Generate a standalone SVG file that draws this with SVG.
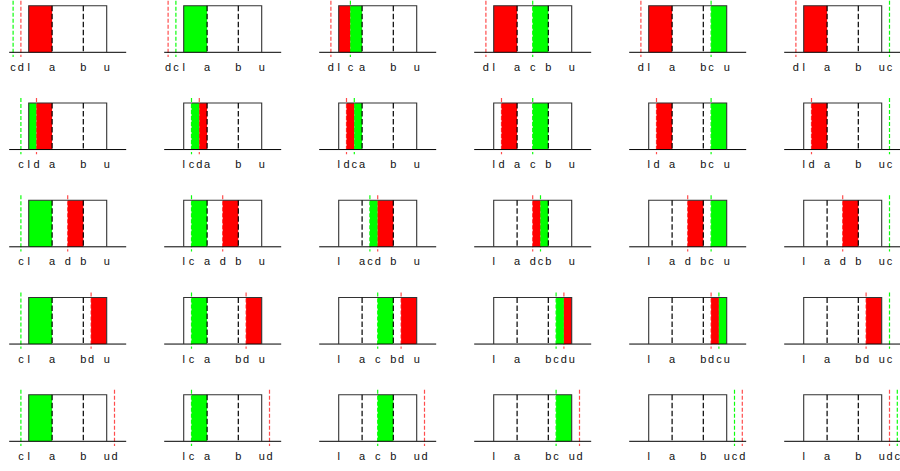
<svg xmlns="http://www.w3.org/2000/svg" width="900" height="471" viewBox="0 0 900 471">
<style>
.base{stroke:#000;stroke-width:1;fill:none}
.box{stroke:#333;stroke-width:1.1;fill:none}
.ab{stroke:#000;stroke-width:1.2;stroke-dasharray:5.5,2.5;fill:none}
.cl{stroke:#00ff00;stroke-opacity:.95;stroke-width:1.2;stroke-dasharray:4,2}
.dl{stroke:#ff2020;stroke-opacity:.8;stroke-width:1.2;stroke-dasharray:4,2}
.g{fill:#00ff00}
.r{fill:#ff0000}
text{font-family:"Liberation Sans",Arial,sans-serif;font-size:11px;text-anchor:middle;fill:#111}
</style>
<defs>
<g id="frame">
<line class="base" x1="-19.5" y1="46.6" x2="97.5" y2="46.6"/>
<path class="box" d="M0,46.6V0H78V46.6"/>
<line class="ab" x1="23.4" y1="0" x2="23.4" y2="46.6"/>
<line class="ab" x1="54.6" y1="0" x2="54.6" y2="46.6"/>
<text x="0" y="65.3">l</text>
<text x="23.4" y="65.3">a</text>
<text x="54.6" y="65.3">b</text>
<text x="78" y="65.3">u</text>
</g>
</defs>

<!-- Row 1 -->
<g id="p-r1c1" transform="translate(28.7,5.7)">
<line class="cl" x1="-15.6" y1="-5" x2="-15.6" y2="51.2"/><line class="dl" x1="-7.8" y1="-5" x2="-7.8" y2="51.2"/>
<rect class="r" x="0" y="0" width="23.4" height="46.6"/>
<use href="#frame"/><text x="-15.6" y="65.3">c</text><text x="-7.8" y="65.3">d</text>
</g>
<g id="p-r1c2" transform="translate(183.7,5.7)">
<line class="dl" x1="-15.6" y1="-5" x2="-15.6" y2="51.2"/><line class="cl" x1="-7.8" y1="-5" x2="-7.8" y2="51.2"/>
<rect class="g" x="0" y="0" width="23.4" height="46.6"/>
<use href="#frame"/><text x="-15.6" y="65.3">d</text><text x="-7.8" y="65.3">c</text>
</g>
<g id="p-r1c3" transform="translate(338.7,5.7)">
<line class="dl" x1="-7.8" y1="-5" x2="-7.8" y2="51.2"/><line class="cl" x1="11.7" y1="-5" x2="11.7" y2="51.2"/>
<rect class="r" x="0" y="0" width="11.7" height="46.6"/><rect class="g" x="11.7" y="0" width="11.7" height="46.6"/>
<use href="#frame"/><text x="-7.8" y="65.3">d</text><text x="11.7" y="65.3">c</text>
</g>
<g id="p-r1c4" transform="translate(493.7,5.7)">
<line class="dl" x1="-7.8" y1="-5" x2="-7.8" y2="51.2"/><line class="cl" x1="39" y1="-5" x2="39" y2="51.2"/>
<rect class="r" x="0" y="0" width="23.4" height="46.6"/><rect class="g" x="39" y="0" width="15.6" height="46.6"/>
<use href="#frame"/><text x="-7.8" y="65.3">d</text><text x="39" y="65.3">c</text>
</g>
<g id="p-r1c5" transform="translate(648.7,5.7)">
<line class="dl" x1="-7.8" y1="-5" x2="-7.8" y2="51.2"/><line class="cl" x1="62.4" y1="-5" x2="62.4" y2="51.2"/>
<rect class="r" x="0" y="0" width="23.4" height="46.6"/><rect class="g" x="62.4" y="0" width="15.6" height="46.6"/>
<use href="#frame"/><text x="-7.8" y="65.3">d</text><text x="62.4" y="65.3">c</text>
</g>
<g id="p-r1c6" transform="translate(803.7,5.7)">
<line class="dl" x1="-7.8" y1="-5" x2="-7.8" y2="51.2"/><line class="cl" x1="85.8" y1="-5" x2="85.8" y2="51.2"/>
<rect class="r" x="0" y="0" width="23.4" height="46.6"/>
<use href="#frame"/><text x="-7.8" y="65.3">d</text><text x="85.8" y="65.3">c</text>
</g>

<!-- Row 2 -->
<g id="p-r2c1" transform="translate(28.7,102.95)">
<line class="cl" x1="-7.8" y1="-5" x2="-7.8" y2="51.2"/><line class="dl" x1="7.8" y1="-5" x2="7.8" y2="51.2"/>
<rect class="g" x="0" y="0" width="7.8" height="46.6"/><rect class="r" x="7.8" y="0" width="15.6" height="46.6"/>
<use href="#frame"/><text x="-7.8" y="65.3">c</text><text x="7.8" y="65.3">d</text>
</g>
<g id="p-r2c2" transform="translate(183.7,102.95)">
<line class="cl" x1="7.8" y1="-5" x2="7.8" y2="51.2"/><line class="dl" x1="15.6" y1="-5" x2="15.6" y2="51.2"/>
<rect class="g" x="7.8" y="0" width="7.8" height="46.6"/><rect class="r" x="15.6" y="0" width="7.8" height="46.6"/>
<use href="#frame"/><text x="7.8" y="65.3">c</text><text x="15.6" y="65.3">d</text>
</g>
<g id="p-r2c3" transform="translate(338.7,102.95)">
<line class="dl" x1="7.8" y1="-5" x2="7.8" y2="51.2"/><line class="cl" x1="15.6" y1="-5" x2="15.6" y2="51.2"/>
<rect class="r" x="7.8" y="0" width="7.8" height="46.6"/><rect class="g" x="15.6" y="0" width="7.8" height="46.6"/>
<use href="#frame"/><text x="7.8" y="65.3">d</text><text x="15.6" y="65.3">c</text>
</g>
<g id="p-r2c4" transform="translate(493.7,102.95)">
<line class="dl" x1="7.8" y1="-5" x2="7.8" y2="51.2"/><line class="cl" x1="39" y1="-5" x2="39" y2="51.2"/>
<rect class="r" x="7.8" y="0" width="15.6" height="46.6"/><rect class="g" x="39" y="0" width="15.6" height="46.6"/>
<use href="#frame"/><text x="7.8" y="65.3">d</text><text x="39" y="65.3">c</text>
</g>
<g id="p-r2c5" transform="translate(648.7,102.95)">
<line class="dl" x1="7.8" y1="-5" x2="7.8" y2="51.2"/><line class="cl" x1="62.4" y1="-5" x2="62.4" y2="51.2"/>
<rect class="r" x="7.8" y="0" width="15.6" height="46.6"/><rect class="g" x="62.4" y="0" width="15.6" height="46.6"/>
<use href="#frame"/><text x="7.8" y="65.3">d</text><text x="62.4" y="65.3">c</text>
</g>
<g id="p-r2c6" transform="translate(803.7,102.95)">
<line class="dl" x1="7.8" y1="-5" x2="7.8" y2="51.2"/><line class="cl" x1="85.8" y1="-5" x2="85.8" y2="51.2"/>
<rect class="r" x="7.8" y="0" width="15.6" height="46.6"/>
<use href="#frame"/><text x="7.8" y="65.3">d</text><text x="85.8" y="65.3">c</text>
</g>

<!-- Row 3 -->
<g id="p-r3c1" transform="translate(28.7,200.2)">
<line class="cl" x1="-7.8" y1="-5" x2="-7.8" y2="51.2"/><line class="dl" x1="39" y1="-5" x2="39" y2="51.2"/>
<rect class="g" x="0" y="0" width="23.4" height="46.6"/><rect class="r" x="39" y="0" width="15.6" height="46.6"/>
<use href="#frame"/><text x="-7.8" y="65.3">c</text><text x="39" y="65.3">d</text>
</g>
<g id="p-r3c2" transform="translate(183.7,200.2)">
<line class="cl" x1="7.8" y1="-5" x2="7.8" y2="51.2"/><line class="dl" x1="39" y1="-5" x2="39" y2="51.2"/>
<rect class="g" x="7.8" y="0" width="15.6" height="46.6"/><rect class="r" x="39" y="0" width="15.6" height="46.6"/>
<use href="#frame"/><text x="7.8" y="65.3">c</text><text x="39" y="65.3">d</text>
</g>
<g id="p-r3c3" transform="translate(338.7,200.2)">
<line class="cl" x1="31.2" y1="-5" x2="31.2" y2="51.2"/><line class="dl" x1="39" y1="-5" x2="39" y2="51.2"/>
<rect class="g" x="31.2" y="0" width="7.8" height="46.6"/><rect class="r" x="39" y="0" width="15.6" height="46.6"/>
<use href="#frame"/><text x="31.2" y="65.3">c</text><text x="39" y="65.3">d</text>
</g>
<g id="p-r3c4" transform="translate(493.7,200.2)">
<line class="dl" x1="39" y1="-5" x2="39" y2="51.2"/><line class="cl" x1="46.8" y1="-5" x2="46.8" y2="51.2"/>
<rect class="r" x="39" y="0" width="7.8" height="46.6"/><rect class="g" x="46.8" y="0" width="7.8" height="46.6"/>
<use href="#frame"/><text x="39" y="65.3">d</text><text x="46.8" y="65.3">c</text>
</g>
<g id="p-r3c5" transform="translate(648.7,200.2)">
<line class="dl" x1="39" y1="-5" x2="39" y2="51.2"/><line class="cl" x1="62.4" y1="-5" x2="62.4" y2="51.2"/>
<rect class="r" x="39" y="0" width="15.6" height="46.6"/><rect class="g" x="62.4" y="0" width="15.6" height="46.6"/>
<use href="#frame"/><text x="39" y="65.3">d</text><text x="62.4" y="65.3">c</text>
</g>
<g id="p-r3c6" transform="translate(803.7,200.2)">
<line class="dl" x1="39" y1="-5" x2="39" y2="51.2"/><line class="cl" x1="85.8" y1="-5" x2="85.8" y2="51.2"/>
<rect class="r" x="39" y="0" width="15.6" height="46.6"/>
<use href="#frame"/><text x="39" y="65.3">d</text><text x="85.8" y="65.3">c</text>
</g>

<!-- Row 4 -->
<g id="p-r4c1" transform="translate(28.7,297.45)">
<line class="cl" x1="-7.8" y1="-5" x2="-7.8" y2="51.2"/><line class="dl" x1="62.4" y1="-5" x2="62.4" y2="51.2"/>
<rect class="g" x="0" y="0" width="23.4" height="46.6"/><rect class="r" x="62.4" y="0" width="15.6" height="46.6"/>
<use href="#frame"/><text x="-7.8" y="65.3">c</text><text x="62.4" y="65.3">d</text>
</g>
<g id="p-r4c2" transform="translate(183.7,297.45)">
<line class="cl" x1="7.8" y1="-5" x2="7.8" y2="51.2"/><line class="dl" x1="62.4" y1="-5" x2="62.4" y2="51.2"/>
<rect class="g" x="7.8" y="0" width="15.6" height="46.6"/><rect class="r" x="62.4" y="0" width="15.6" height="46.6"/>
<use href="#frame"/><text x="7.8" y="65.3">c</text><text x="62.4" y="65.3">d</text>
</g>
<g id="p-r4c3" transform="translate(338.7,297.45)">
<line class="cl" x1="39" y1="-5" x2="39" y2="51.2"/><line class="dl" x1="62.4" y1="-5" x2="62.4" y2="51.2"/>
<rect class="g" x="39" y="0" width="15.6" height="46.6"/><rect class="r" x="62.4" y="0" width="15.6" height="46.6"/>
<use href="#frame"/><text x="39" y="65.3">c</text><text x="62.4" y="65.3">d</text>
</g>
<g id="p-r4c4" transform="translate(493.7,297.45)">
<line class="cl" x1="62.4" y1="-5" x2="62.4" y2="51.2"/><line class="dl" x1="70.2" y1="-5" x2="70.2" y2="51.2"/>
<rect class="g" x="62.4" y="0" width="7.8" height="46.6"/><rect class="r" x="70.2" y="0" width="7.8" height="46.6"/>
<use href="#frame"/><text x="62.4" y="65.3">c</text><text x="70.2" y="65.3">d</text>
</g>
<g id="p-r4c5" transform="translate(648.7,297.45)">
<line class="dl" x1="62.4" y1="-5" x2="62.4" y2="51.2"/><line class="cl" x1="70.2" y1="-5" x2="70.2" y2="51.2"/>
<rect class="r" x="62.4" y="0" width="7.8" height="46.6"/><rect class="g" x="70.2" y="0" width="7.8" height="46.6"/>
<use href="#frame"/><text x="62.4" y="65.3">d</text><text x="70.2" y="65.3">c</text>
</g>
<g id="p-r4c6" transform="translate(803.7,297.45)">
<line class="dl" x1="62.4" y1="-5" x2="62.4" y2="51.2"/><line class="cl" x1="85.8" y1="-5" x2="85.8" y2="51.2"/>
<rect class="r" x="62.4" y="0" width="15.6" height="46.6"/>
<use href="#frame"/><text x="62.4" y="65.3">d</text><text x="85.8" y="65.3">c</text>
</g>

<!-- Row 5 -->
<g id="p-r5c1" transform="translate(28.7,394.7)">
<line class="cl" x1="-7.8" y1="-5" x2="-7.8" y2="51.2"/><line class="dl" x1="85.8" y1="-5" x2="85.8" y2="51.2"/>
<rect class="g" x="0" y="0" width="23.4" height="46.6"/>
<use href="#frame"/><text x="-7.8" y="65.3">c</text><text x="85.8" y="65.3">d</text>
</g>
<g id="p-r5c2" transform="translate(183.7,394.7)">
<line class="cl" x1="7.8" y1="-5" x2="7.8" y2="51.2"/><line class="dl" x1="85.8" y1="-5" x2="85.8" y2="51.2"/>
<rect class="g" x="7.8" y="0" width="15.6" height="46.6"/>
<use href="#frame"/><text x="7.8" y="65.3">c</text><text x="85.8" y="65.3">d</text>
</g>
<g id="p-r5c3" transform="translate(338.7,394.7)">
<line class="cl" x1="39" y1="-5" x2="39" y2="51.2"/><line class="dl" x1="85.8" y1="-5" x2="85.8" y2="51.2"/>
<rect class="g" x="39" y="0" width="15.6" height="46.6"/>
<use href="#frame"/><text x="39" y="65.3">c</text><text x="85.8" y="65.3">d</text>
</g>
<g id="p-r5c4" transform="translate(493.7,394.7)">
<line class="cl" x1="62.4" y1="-5" x2="62.4" y2="51.2"/><line class="dl" x1="85.8" y1="-5" x2="85.8" y2="51.2"/>
<rect class="g" x="62.4" y="0" width="15.6" height="46.6"/>
<use href="#frame"/><text x="62.4" y="65.3">c</text><text x="85.8" y="65.3">d</text>
</g>
<g id="p-r5c5" transform="translate(648.7,394.7)">
<line class="cl" x1="85.8" y1="-5" x2="85.8" y2="51.2"/><line class="dl" x1="93.6" y1="-5" x2="93.6" y2="51.2"/>
<use href="#frame"/><text x="85.8" y="65.3">c</text><text x="93.6" y="65.3">d</text>
</g>
<g id="p-r5c6" transform="translate(803.7,394.7)">
<line class="dl" x1="85.8" y1="-5" x2="85.8" y2="51.2"/><line class="cl" x1="93.6" y1="-5" x2="93.6" y2="51.2"/>
<use href="#frame"/><text x="85.8" y="65.3">d</text><text x="93.6" y="65.3">c</text>
</g>
</svg>
